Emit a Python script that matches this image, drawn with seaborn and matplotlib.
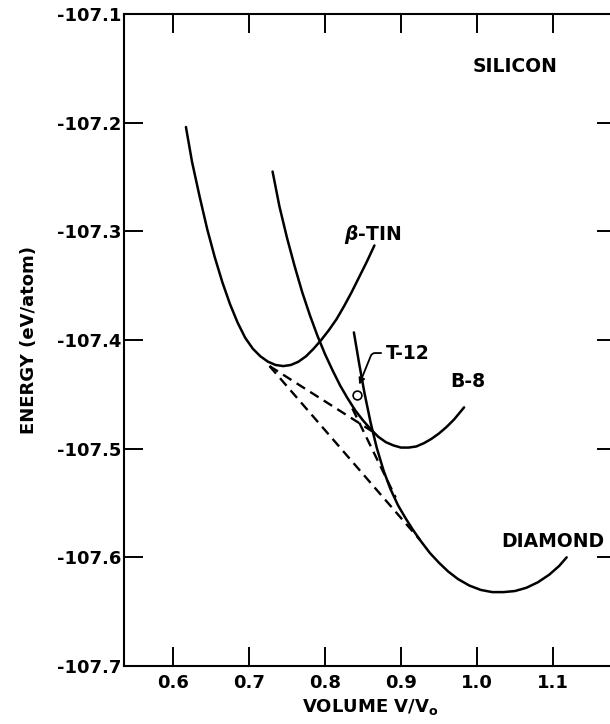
import matplotlib
matplotlib.use("Agg")
import matplotlib.pyplot as plt
import seaborn as sns
import pandas as pd

# ---- data ----
btin_v = [0.617, 0.625, 0.635, 0.645, 0.655, 0.665, 0.675, 0.685, 0.695, 0.705, 0.715, 0.725,
          0.735, 0.745, 0.755, 0.765, 0.775, 0.785, 0.795, 0.805, 0.815, 0.825, 0.835, 0.845,
          0.855, 0.865]
btin_e = [-107.204, -107.236, -107.268, -107.298, -107.324, -107.347, -107.367, -107.384,
          -107.398, -107.408, -107.415, -107.420, -107.423, -107.424, -107.423, -107.420,
          -107.415, -107.408, -107.400, -107.391, -107.381, -107.369, -107.356, -107.342,
          -107.328, -107.313]

b8_v = [0.731, 0.740, 0.750, 0.760, 0.770, 0.780, 0.790, 0.800, 0.810, 0.820, 0.830, 0.840,
        0.850, 0.860, 0.870, 0.880, 0.890, 0.900, 0.910, 0.920, 0.930, 0.940, 0.950, 0.960,
        0.970, 0.983]
b8_e = [-107.245, -107.277, -107.306, -107.332, -107.356, -107.377, -107.396, -107.413,
        -107.428, -107.442, -107.454, -107.465, -107.474, -107.482, -107.489, -107.494,
        -107.497, -107.499, -107.499, -107.498, -107.495, -107.491, -107.486, -107.480,
        -107.473, -107.462]

diamond_v = [0.838, 0.845, 0.852, 0.860, 0.868, 0.877, 0.886, 0.896, 0.906, 0.916, 0.926,
             0.938, 0.950, 0.962, 0.975, 0.990, 1.005, 1.020, 1.035, 1.050, 1.065, 1.080,
             1.095, 1.108, 1.118]
diamond_e = [-107.393, -107.422, -107.449, -107.476, -107.499, -107.520, -107.537, -107.552,
             -107.564, -107.575, -107.585, -107.596, -107.605, -107.613, -107.620, -107.626,
             -107.630, -107.632, -107.632, -107.631, -107.628, -107.623, -107.616, -107.608,
             -107.600]

# common tangent constructions (dashed)
tan_btin_b8_v = [0.727, 0.862]
tan_btin_b8_e = [-107.424, -107.484]
tan_b8_dia_v = [0.836, 0.893]
tan_b8_dia_e = [-107.463, -107.545]
tan_btin_dia_v = [0.727, 0.925]
tan_btin_dia_e = [-107.424, -107.584]

t12_v = [0.842]
t12_e = [-107.451]

x_ticks = [0.6, 0.7, 0.8, 0.9, 1.0, 1.1]
x_tick_labels = ["0.6", "0.7", "0.8", "0.9", "1.0", "1.1"]
y_ticks = [-107.7, -107.6, -107.5, -107.4, -107.3, -107.2, -107.1]
y_tick_labels = ["-107.7", "-107.6", "-107.5", "-107.4", "-107.3", "-107.2", "-107.1"]

# ---- style ----
sns.set_theme(style="ticks")
plt.rcParams["font.family"] = ["DejaVu Sans"]
plt.rcParams["font.weight"] = "bold"
plt.rcParams["axes.labelweight"] = "bold"
plt.rcParams["text.color"] = "black"
plt.rcParams["axes.labelcolor"] = "black"
plt.rcParams["xtick.color"] = "black"
plt.rcParams["ytick.color"] = "black"
plt.rcParams["xtick.labelcolor"] = "black"
plt.rcParams["ytick.labelcolor"] = "black"

fig = plt.figure(figsize=(6.10, 7.24), dpi=100)
W, H = 610.0, 724.0
left_px, right_px, top_px, bottom_px = 124, 616, 14, 666
ax = fig.add_axes([left_px / W, 1 - bottom_px / H, (right_px - left_px) / W, (bottom_px - top_px) / H])

lw = 1.8
for v, e in [(btin_v, btin_e), (b8_v, b8_e), (diamond_v, diamond_e)]:
    df = pd.DataFrame({"V": v, "E": e})
    sns.lineplot(data=df, x="V", y="E", ax=ax, color="black", lw=lw, sort=False,
                 estimator=None)

for v, e in [(tan_btin_b8_v, tan_btin_b8_e), (tan_b8_dia_v, tan_b8_dia_e),
             (tan_btin_dia_v, tan_btin_dia_e)]:
    df = pd.DataFrame({"V": v, "E": e})
    sns.lineplot(data=df, x="V", y="E", ax=ax, color="black", lw=1.7, sort=False,
                 estimator=None, linestyle=(0, (4.2, 2.6)))

sns.scatterplot(x=t12_v, y=t12_e, ax=ax, s=40, facecolor="white", edgecolor="black",
                linewidth=1.2, zorder=5)

ax.set_xlim(0.5355, 1.1829)
ax.set_ylim(-107.7, -107.1)
ax.set_xticks(x_ticks)
ax.set_xticklabels(x_tick_labels)
ax.set_yticks(y_ticks)
ax.set_yticklabels(y_tick_labels)

ax.tick_params(axis="both", which="major", direction="in", length=13.5, width=1.4,
               top=True, right=True, labelsize=13, color="black", labelcolor="black")
ax.tick_params(axis="x", pad=6)
ax.tick_params(axis="y", pad=2)
for lab in ax.get_xticklabels() + ax.get_yticklabels():
    lab.set_fontweight("bold")
    lab.set_color("black")

for sp in ax.spines.values():
    sp.set_linewidth(1.5)
    sp.set_color("black")

ax.set_xlabel(r"VOLUME V/V$_\mathbf{o}$", fontsize=13, fontweight="bold", color="black")
ax.set_ylabel("ENERGY (eV/atom)", fontsize=13, fontweight="bold", color="black")
ax.xaxis.set_label_coords(0.5, (bottom_px - 697) / (bottom_px - top_px))
ax.yaxis.set_label_coords((38 - left_px) / (right_px - left_px), 0.5)

txt = dict(fontsize=13.5, fontweight="bold", color="black")
ax.text(1.05, -107.148, "SILICON", ha="center", va="center", **txt)
ax.text(0.863, -107.303, r"$\beta$-TIN", ha="center", va="center", **txt)
ax.text(0.988, -107.438, "B-8", ha="center", va="center", **txt)
ax.text(1.032, -107.585, "DIAMOND", ha="left", va="center", **txt)
ax.annotate("T-12", xy=(0.845, -107.441), xytext=(0.880, -107.412),
            ha="left", va="center", **txt,
            arrowprops=dict(arrowstyle="-|>", color="black", lw=1.3, shrinkA=1, shrinkB=0,
                            relpos=(0, 0.5), mutation_scale=9,
                            connectionstyle="angle,angleA=0,angleB=68,rad=3"))

fig.savefig("out.png", dpi=100)
